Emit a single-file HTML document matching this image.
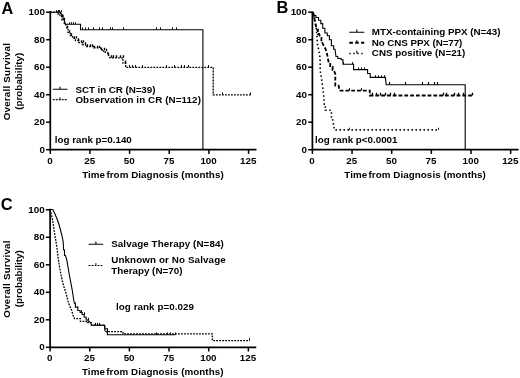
<!DOCTYPE html>
<html><head><meta charset="utf-8"><title>Figure</title>
<style>
html,body{margin:0;padding:0;background:#fff;}
svg{display:block;will-change:transform;}
text{font-family:"Liberation Sans",sans-serif;font-weight:bold;fill:#000;}
</style></head><body>
<svg width="520" height="378" viewBox="0 0 520 378">
<rect width="520" height="378" fill="#fff"/>
<text x="1.4" y="13.5" text-anchor="start" font-size="16.2">A</text>
<path d="M50.3,11.35 V149.7 H256.48" fill="none" stroke="#000" stroke-width="1.7"/>
<path d="M46.099999999999994,149.70 H50.3" stroke="#000" stroke-width="1.5"/>
<text x="44.9" y="152.7" text-anchor="end" font-size="9.8">0</text>
<path d="M46.099999999999994,122.20 H50.3" stroke="#000" stroke-width="1.5"/>
<text x="44.9" y="125.2" text-anchor="end" font-size="9.8">20</text>
<path d="M46.099999999999994,94.70 H50.3" stroke="#000" stroke-width="1.5"/>
<text x="44.9" y="97.7" text-anchor="end" font-size="9.8">40</text>
<path d="M46.099999999999994,67.20 H50.3" stroke="#000" stroke-width="1.5"/>
<text x="44.9" y="70.2" text-anchor="end" font-size="9.8">60</text>
<path d="M46.099999999999994,39.70 H50.3" stroke="#000" stroke-width="1.5"/>
<text x="44.9" y="42.7" text-anchor="end" font-size="9.8">80</text>
<path d="M46.099999999999994,12.20 H50.3" stroke="#000" stroke-width="1.5"/>
<text x="44.9" y="15.2" text-anchor="end" font-size="9.8">100</text>
<path d="M50.30,149.7 V153.89999999999998" stroke="#000" stroke-width="1.5"/>
<text x="50.0" y="164.3" text-anchor="middle" font-size="9.8">0</text>
<path d="M89.95,149.7 V153.89999999999998" stroke="#000" stroke-width="1.5"/>
<text x="89.65" y="164.3" text-anchor="middle" font-size="9.8">25</text>
<path d="M129.60,149.7 V153.89999999999998" stroke="#000" stroke-width="1.5"/>
<text x="129.3" y="164.3" text-anchor="middle" font-size="9.8">50</text>
<path d="M169.25,149.7 V153.89999999999998" stroke="#000" stroke-width="1.5"/>
<text x="168.95" y="164.3" text-anchor="middle" font-size="9.8">75</text>
<path d="M208.90,149.7 V153.89999999999998" stroke="#000" stroke-width="1.5"/>
<text x="208.6" y="164.3" text-anchor="middle" font-size="9.8">100</text>
<path d="M248.55,149.7 V153.89999999999998" stroke="#000" stroke-width="1.5"/>
<text x="248.25" y="164.3" text-anchor="middle" font-size="9.8">125</text>
<text x="82.20" y="177.80" font-size="9.8" letter-spacing="0.06">Time<tspan dx="-1.5"> from Diagnosis (months)</tspan></text>
<text transform="translate(9.8,81.7) rotate(-90)" text-anchor="middle" font-size="9.8" textLength="77.2" lengthAdjust="spacing">Overall Survival</text>
<text transform="translate(21.6,81.3) rotate(-90)" text-anchor="middle" font-size="9.8" textLength="57.0" lengthAdjust="spacing">(probability)</text>
<path d="M50.3,12.2 H60.5 V12.2 L62.0,15.6 H63.1 V19.5 H64.2 L65.2,24.2 H80.5 V24.2 H80.5 V29.7 H202.9 V29.7 H202.9 V149.7" fill="none" stroke="#000" stroke-width="1.1"/>
<path d="M56.5,12.2 v-2.0M58.5,12.2 v-2.0M59.5,12.2 v-2.0M61.5,12.2 v-2.0" stroke="#000" stroke-width="0.9" fill="none"/>
<path d="M69.5,24.2 v-2.0M71.5,24.2 v-2.0M73.5,24.2 v-2.0M75.5,24.2 v-2.0" stroke="#000" stroke-width="0.9" fill="none"/>
<path d="M82.5,29.7 v-2.3M85.5,29.7 v-2.3M88.5,29.7 v-2.3M93.5,29.7 v-2.3M99.5,29.7 v-2.3M102.5,29.7 v-2.3M110.5,29.7 v-2.3M112.5,29.7 v-2.3M123.5,29.7 v-2.3M156.5,29.7 v-2.3M160.5,29.7 v-2.3M172.5,29.7 v-2.3M176.5,29.7 v-2.3" stroke="#000" stroke-width="1.0" fill="none"/>
<path d="M50.3,12.2 H57.0 V12.2 H58.0 V14.0 H59.0 H60.0 V16.5 H61.0 H62.0 V20.0 H63.0 H64.3 V24.0 H65.6 L67.0,28.0 H68.0 V32.4 H69.0 H70.2 V35.5 H71.5 H72.7 V38.4 H73.8 H75.4 V40.5 H77.0 H78.8 V42.5 H80.5 H82.2 V44.5 H84.0 H85.6 V46.5 H87.2 H94.0 V47.9 H100.7 V49.9 H102.3 V51.0 H104.0 H105.3 V52.4 H106.7 H107.6 V55.0 H108.5 L110.0,57.8 H121.6 V57.8 H122.9 V63.2 H124.3 H125.7 V67.4 H127.0 H213.2 V67.4 H213.2 V94.8 H250.7 V94.8" fill="none" stroke="#000" stroke-width="1.3" stroke-dasharray="1.8 1.2"/>
<path d="M58.5,12.2 v-2.2M60.5,14.0 v-2.2M62.5,16.5 v-2.2M64.5,20.0 v-2.2M67.5,28.0 v-2.2M69.5,32.4 v-2.2M71.5,35.5 v-2.2M74.5,38.4 v-2.2M76.5,38.4 v-2.2M78.5,40.5 v-2.2M81.5,42.5 v-2.2M83.5,42.5 v-2.2M85.5,44.5 v-2.2M87.5,46.5 v-2.2M90.5,46.5 v-2.2M92.5,46.5 v-2.2M94.5,47.9 v-2.2M97.5,47.9 v-2.2M99.5,47.9 v-2.2M101.5,49.9 v-2.2M104.5,49.9 v-2.2M106.5,51.0 v-2.2M108.5,55.0 v-2.2" stroke="#000" stroke-width="1.3" fill="none"/>
<path d="M111.5,57.8 v-2.6M113.5,57.8 v-2.6M116.5,57.8 v-2.6M120.5,57.8 v-2.6M123.5,57.8 v-2.6M125.5,63.2 v-2.6" stroke="#000" stroke-width="1.4" fill="none"/>
<path d="M129.5,67.4 v-2.3M132.5,67.4 v-2.3M135.5,67.4 v-2.3M142.5,67.4 v-2.3M166.5,67.4 v-2.3M174.5,67.4 v-2.3M181.5,67.4 v-2.3M184.5,67.4 v-2.3M188.5,67.4 v-2.3M208.5,67.4 v-2.3" stroke="#000" stroke-width="1.0" fill="none"/>
<path d="M222.5,94.8 v-2.3M250.5,94.8 v-2.3" stroke="#000" stroke-width="1.0" fill="none"/>
<path d="M52.8,89.3 H67.4 M60,89.3 v-2.6" stroke="#000" stroke-width="1.1" fill="none"/>
<path d="M52.8,99.6 H67.4" stroke="#000" stroke-width="1.2" stroke-dasharray="1.8 1.2" fill="none"/><path d="M60,99.6 v-2.4" stroke="#000" stroke-width="0.9"/>
<text x="75.4" y="92.8" text-anchor="start" font-size="9.8" textLength="80" lengthAdjust="spacing">SCT in CR (N=39)</text>
<text x="75.4" y="103.1" text-anchor="start" font-size="9.8" textLength="125.5" lengthAdjust="spacing">Observation in CR (N=112)</text>
<text x="54.8" y="142.7" text-anchor="start" font-size="9.8" textLength="77" lengthAdjust="spacing">log rank p=0.140</text>
<text x="276.4" y="13.4" text-anchor="start" font-size="16.4">B</text>
<path d="M312.4,11.45 V149.7 H518.5799999999999" fill="none" stroke="#000" stroke-width="1.7"/>
<path d="M308.2,149.70 H312.4" stroke="#000" stroke-width="1.5"/>
<text x="307.0" y="152.7" text-anchor="end" font-size="9.8">0</text>
<path d="M308.2,122.20 H312.4" stroke="#000" stroke-width="1.5"/>
<text x="307.0" y="125.2" text-anchor="end" font-size="9.8">20</text>
<path d="M308.2,94.70 H312.4" stroke="#000" stroke-width="1.5"/>
<text x="307.0" y="97.7" text-anchor="end" font-size="9.8">40</text>
<path d="M308.2,67.20 H312.4" stroke="#000" stroke-width="1.5"/>
<text x="307.0" y="70.2" text-anchor="end" font-size="9.8">60</text>
<path d="M308.2,39.70 H312.4" stroke="#000" stroke-width="1.5"/>
<text x="307.0" y="42.7" text-anchor="end" font-size="9.8">80</text>
<path d="M308.2,12.20 H312.4" stroke="#000" stroke-width="1.5"/>
<text x="307.0" y="15.2" text-anchor="end" font-size="9.8">100</text>
<path d="M312.40,149.7 V153.89999999999998" stroke="#000" stroke-width="1.5"/>
<text x="312.1" y="164.3" text-anchor="middle" font-size="9.8">0</text>
<path d="M352.05,149.7 V153.89999999999998" stroke="#000" stroke-width="1.5"/>
<text x="351.75" y="164.3" text-anchor="middle" font-size="9.8">25</text>
<path d="M391.70,149.7 V153.89999999999998" stroke="#000" stroke-width="1.5"/>
<text x="391.4" y="164.3" text-anchor="middle" font-size="9.8">50</text>
<path d="M431.35,149.7 V153.89999999999998" stroke="#000" stroke-width="1.5"/>
<text x="431.05" y="164.3" text-anchor="middle" font-size="9.8">75</text>
<path d="M471.00,149.7 V153.89999999999998" stroke="#000" stroke-width="1.5"/>
<text x="470.7" y="164.3" text-anchor="middle" font-size="9.8">100</text>
<path d="M510.65,149.7 V153.89999999999998" stroke="#000" stroke-width="1.5"/>
<text x="510.35" y="164.3" text-anchor="middle" font-size="9.8">125</text>
<text x="344.30" y="177.80" font-size="9.8" letter-spacing="0.06">Time<tspan dx="-1.5"> from Diagnosis (months)</tspan></text>
<path d="M312.4,12.3 H313.0 V12.3 L314.6,15.5 H315.9 V17.5 H317.2 H318.5 V20.2 H319.8 H320.8 V23.6 H321.8 H322.7 V28.3 H323.6 H324.9 V33.0 H326.2 H327.3 V35.7 H328.4 H329.4 V39.7 H330.4 H331.4 V45.8 H332.4 H333.7 V49.2 H335.0 L336.0,56.5 H337.8 V58.5 H339.5 H341.2 V59.8 H343.0 H343.0 V64.2 H352.6 V64.2 H353.6 V69.6 H354.6 H366.6 V69.6 H367.6 V73.5 H368.6 H370.2 V77.4 H371.8 H385.4 V77.4 L386.2,84.8 H465.2 V84.8 H465.2 V149.7" fill="none" stroke="#000" stroke-width="1.1"/>
<path d="M343.5,64.2 v-2.2M352.5,64.2 v-2.2" stroke="#000" stroke-width="0.9" fill="none"/>
<path d="M358.5,69.6 v-2.2M361.5,69.6 v-2.2M364.5,69.6 v-2.2" stroke="#000" stroke-width="0.9" fill="none"/>
<path d="M375.5,77.4 v-2.2M378.5,77.4 v-2.2M381.5,77.4 v-2.2M384.5,77.4 v-2.2" stroke="#000" stroke-width="0.9" fill="none"/>
<path d="M389.5,84.8 v-2.8M405.5,84.8 v-2.8M422.5,84.8 v-2.8M428.5,84.8 v-2.8M434.5,84.8 v-2.8M437.5,84.8 v-2.8" stroke="#000" stroke-width="1.1" fill="none"/>
<path d="M312.4,12.3 L313.5,15.0 L314.5,19.0 L315.5,24.0 L316.9,29.6 H317.9 V34.0 H319.0 L320.5,38.0 H321.4 V43.0 H322.3 L324.0,46.0 L325.6,49.0 L327.0,54.0 L328.0,59.0 L329.0,63.9 H330.2 V67.0 H331.5 H332.6 V70.0 H333.7 L335.3,74.0 H335.3 V85.7 H338.6 V85.7 L339.6,90.6 H369.8 V90.6 H369.8 V95.5 H473.7 V95.5" fill="none" stroke="#000" stroke-width="1.8" stroke-dasharray="3.8 2.0"/>
<path d="M312.4,12.3 L313.2,15.0 L314.2,17.5 L315.2,22.0 L316.2,28.3 L316.9,36.0 L317.5,44.5 L318.5,49.0 L319.6,54.0 L320.2,62.0 H320.2 V70.7 L321.5,78.0 L322.5,86.0 L323.6,95.0 L324.3,104.2 H325.3 V110.3 H326.3 H330.4 V110.3 H331.4 V118.4 H332.4 L333.4,124.0 L334.4,129.9 H438.0 V129.9" fill="none" stroke="#000" stroke-width="1.6" stroke-dasharray="1.5 2.5"/>
<path d="M349.5,129.9 v-2.2M438.5,129.9 v-2.2" stroke="#000" stroke-width="0.9" fill="none"/>
<path d="M372.5,95.5 v-2.8M376.5,95.5 v-2.8M380.5,95.5 v-2.8M385.5,95.5 v-2.8M390.5,95.5 v-2.8M394.5,95.5 v-2.8M443.5,95.5 v-2.8M446.5,95.5 v-2.8M454.5,95.5 v-2.8M458.5,95.5 v-2.8M463.5,95.5 v-2.8M472.5,95.5 v-2.8" stroke="#000" stroke-width="1.3" fill="none"/>
<path d="M349.5,90.6 v-2.4M361.5,90.6 v-2.4" stroke="#000" stroke-width="1.2" fill="none"/>
<path d="M349.3,32.2 H364.3 M356.8,32.2 v-2.6" stroke="#000" stroke-width="1.1" fill="none"/>
<path d="M349.3,42.8 H364.3" stroke="#000" stroke-width="2.0" stroke-dasharray="3.6 2.3" fill="none"/><path d="M356.8,42.8 v-2.6" stroke="#000" stroke-width="1.1"/>
<path d="M349.3,53.4 H364.3" stroke="#000" stroke-width="1.5" stroke-dasharray="1.4 2.6" fill="none"/><path d="M356.8,53.4 v-2.6" stroke="#000" stroke-width="1.1"/>
<text x="371.8" y="35.2" text-anchor="start" font-size="9.8" textLength="128.6" lengthAdjust="spacing">MTX-containing PPX (N=43)</text>
<text x="371.8" y="45.7" text-anchor="start" font-size="9.8" textLength="90.5" lengthAdjust="spacing">No CNS PPX (N=77)</text>
<text x="371.8" y="56.1" text-anchor="start" font-size="9.8" textLength="93.5" lengthAdjust="spacing">CNS positive (N=21)</text>
<text x="315.0" y="142.7" text-anchor="start" font-size="9.8" textLength="82.5" lengthAdjust="spacing">log rank p&lt;0.0001</text>
<text x="0.7" y="210.4" text-anchor="start" font-size="16.4">C</text>
<path d="M50.1,208.65 V347.3 H256.28000000000003" fill="none" stroke="#000" stroke-width="1.7"/>
<path d="M45.9,347.30 H50.1" stroke="#000" stroke-width="1.5"/>
<text x="44.7" y="350.3" text-anchor="end" font-size="9.8">0</text>
<path d="M45.9,319.80 H50.1" stroke="#000" stroke-width="1.5"/>
<text x="44.7" y="322.8" text-anchor="end" font-size="9.8">20</text>
<path d="M45.9,292.30 H50.1" stroke="#000" stroke-width="1.5"/>
<text x="44.7" y="295.3" text-anchor="end" font-size="9.8">40</text>
<path d="M45.9,264.80 H50.1" stroke="#000" stroke-width="1.5"/>
<text x="44.7" y="267.8" text-anchor="end" font-size="9.8">60</text>
<path d="M45.9,237.30 H50.1" stroke="#000" stroke-width="1.5"/>
<text x="44.7" y="240.3" text-anchor="end" font-size="9.8">80</text>
<path d="M45.9,209.80 H50.1" stroke="#000" stroke-width="1.5"/>
<text x="44.7" y="212.8" text-anchor="end" font-size="9.8">100</text>
<path d="M50.10,347.3 V351.5" stroke="#000" stroke-width="1.5"/>
<text x="49.8" y="361.2" text-anchor="middle" font-size="9.8">0</text>
<path d="M89.75,347.3 V351.5" stroke="#000" stroke-width="1.5"/>
<text x="89.45" y="361.2" text-anchor="middle" font-size="9.8">25</text>
<path d="M129.40,347.3 V351.5" stroke="#000" stroke-width="1.5"/>
<text x="129.1" y="361.2" text-anchor="middle" font-size="9.8">50</text>
<path d="M169.05,347.3 V351.5" stroke="#000" stroke-width="1.5"/>
<text x="168.75" y="361.2" text-anchor="middle" font-size="9.8">75</text>
<path d="M208.70,347.3 V351.5" stroke="#000" stroke-width="1.5"/>
<text x="208.4" y="361.2" text-anchor="middle" font-size="9.8">100</text>
<path d="M248.35,347.3 V351.5" stroke="#000" stroke-width="1.5"/>
<text x="248.05" y="361.2" text-anchor="middle" font-size="9.8">125</text>
<text x="82.00" y="374.70" font-size="9.8" letter-spacing="0.06">Time<tspan dx="-1.5"> from Diagnosis (months)</tspan></text>
<text transform="translate(9.8,279.1) rotate(-90)" text-anchor="middle" font-size="9.8" textLength="77.2" lengthAdjust="spacing">Overall Survival</text>
<text transform="translate(21.6,278.7) rotate(-90)" text-anchor="middle" font-size="9.8" textLength="57.0" lengthAdjust="spacing">(probability)</text>
<path d="M50.1,209.5 H52.8 V209.5 L54.5,213.0 L56.0,216.5 L57.5,220.2 L59.0,224.5 L60.2,229.0 L61.8,235.0 L63.2,241.8 L63.6,250.0 H64.5 V255.5 H65.5 L67.0,260.8 L68.0,267.0 L69.0,273.0 L70.0,278.5 L71.0,283.7 L72.4,291.0 L73.7,300.0 L74.4,303.1 H75.4 V307.1 H76.4 H77.8 V310.5 H79.1 H80.1 V312.5 H81.1 H82.2 V314.5 H83.2 H84.2 V317.3 H85.2 H86.2 V320.0 H87.2 H88.2 V321.2 H89.2 L90.6,323.0 L91.9,325.3 H104.7 V325.3 H104.7 V328.7 H107.4 V328.7 H107.4 V334.8 H175.4 V334.8" fill="none" stroke="#000" stroke-width="1.1"/>
<path d="M81.5,312.5 v-2.2M84.5,314.5 v-2.2M88.5,320.0 v-2.2" stroke="#000" stroke-width="1.0" fill="none"/>
<path d="M95.5,325.3 v-2.4M97.5,325.3 v-2.4M99.5,325.3 v-2.4" stroke="#000" stroke-width="1.0" fill="none"/>
<path d="M156.5,334.8 v-2.4M167.5,334.8 v-2.4M170.5,334.8 v-2.4M175.5,334.8 v-2.4" stroke="#000" stroke-width="0.9" fill="none"/>
<path d="M50.1,209.5 L51.0,213.0 L52.1,217.5 L53.2,224.0 L54.2,231.0 L55.5,239.0 L56.9,247.2 L58.2,258.0 L59.6,267.5 L61.0,274.5 L62.3,281.0 L64.0,287.0 L65.6,291.8 L67.0,297.0 L68.3,302.4 L70.0,306.5 L71.7,310.5 L73.0,315.0 L74.4,318.6 H80.4 V321.3 H86.5 V322.7 H91.3 V325.2 H104.8 V325.2 H104.8 V331.7 H123.0 V331.7 H123.0 V333.8 H212.3 V333.8 H212.3 V340.6 H249.8 V340.6" fill="none" stroke="#000" stroke-width="1.3" stroke-dasharray="1.8 1.2"/>
<path d="M249.5,340.6 v-2.6" stroke="#000" stroke-width="0.9" fill="none"/>
<path d="M88.6,244.2 H103.2 M95.9,244.2 v-2.6" stroke="#000" stroke-width="1.1" fill="none"/>
<path d="M88.6,265.5 H103.2" stroke="#000" stroke-width="1.2" stroke-dasharray="1.8 1.2" fill="none"/><path d="M95.9,265.5 v-2.4" stroke="#000" stroke-width="0.9"/>
<text x="111.2" y="246.9" text-anchor="start" font-size="9.8" textLength="112.5" lengthAdjust="spacing">Salvage Therapy (N=84)</text>
<text x="111.2" y="263" text-anchor="start" font-size="9.8" textLength="114.5" lengthAdjust="spacing">Unknown or No Salvage</text>
<text x="111.2" y="274" text-anchor="start" font-size="9.8" textLength="71.2" lengthAdjust="spacing">Therapy (N=70)</text>
<text x="116" y="309.8" text-anchor="start" font-size="9.8" textLength="78" lengthAdjust="spacing">log rank p=0.029</text>
</svg></body></html>
